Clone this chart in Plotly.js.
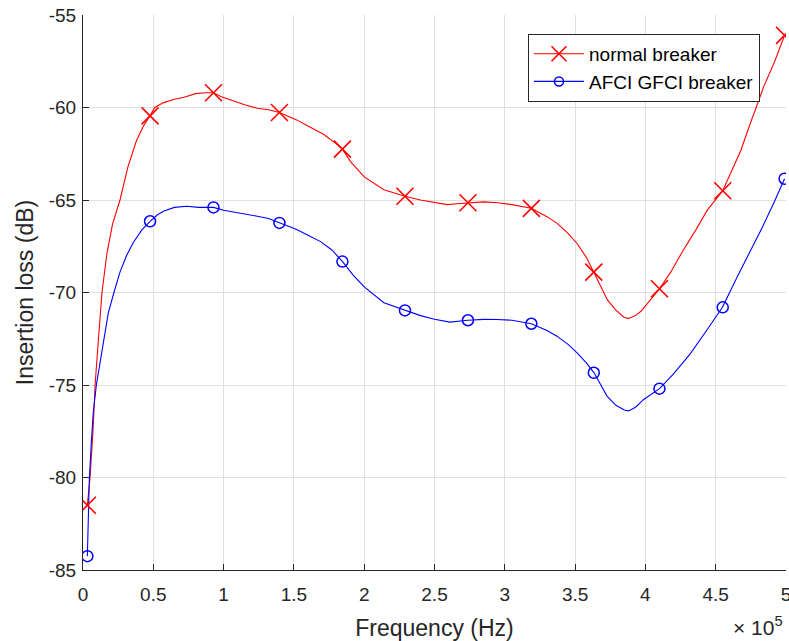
<!DOCTYPE html>
<html>
<head>
<meta charset="utf-8">
<script src="https://cdn.plot.ly/plotly-3.0.1.min.js"></script>
<style>html,body{margin:0;padding:0;background:#fff;}#chart{width:789px;height:641px;}</style>
</head>
<body>
<div id="chart"></div>
<script>
// Dense measured curves (frequency in Hz, insertion loss in dB)
const redLineFreq = [3100,5000,7100,8600,11000,13500,17000,21000,26300,32000,38000,43000,47700,51000,57000,65000,72000,80000,87000,92800,98000,105000,115000,124000,132000,139700,152000,160000,171000,180000,184500,190000,200000,214000,229000,240000,250000,259000,266000,273800,285000,295000,305000,318900,330000,337000,345000,351400,358000,363300,369000,373000,379000,385000,388000,393000,397000,403000,410000,418000,427000,436000,444000,455000,462000,468000,473000,479000,484000,492000,499000];
const redLineLoss = [-81.5,-80.0,-77.5,-75.0,-72.5,-70.0,-67.9,-66.3,-65.0,-63.2,-61.8,-61.0,-60.45,-60.0,-59.75,-59.55,-59.45,-59.25,-59.2,-59.2,-59.4,-59.6,-59.85,-60.04,-60.12,-60.27,-60.67,-61.0,-61.45,-61.95,-62.25,-62.9,-63.75,-64.45,-64.8,-65.0,-65.15,-65.25,-65.2,-65.15,-65.1,-65.15,-65.25,-65.45,-65.9,-66.25,-66.8,-67.35,-68.1,-68.9,-69.8,-70.4,-70.95,-71.35,-71.4,-71.25,-71.0,-70.45,-69.8,-68.9,-67.7,-66.6,-65.55,-64.5,-63.3,-62.3,-61.2,-60.0,-58.9,-57.5,-56.1];

const blueLineFreq = [3100,4500,6000,7300,9500,12100,14500,18000,22000,26300,31000,35800,42000,47700,53000,57200,65000,73800,82000,92800,100000,105000,115000,124000,132000,139700,152000,160000,169000,177000,184600,192000,200000,214000,229000,240000,250000,261000,273800,285000,294400,305000,318900,330000,337100,345000,351400,358000,363500,369000,372700,379000,385000,388000,393000,398800,410000,420000,432000,444000,454800,465000,475000,483000,491300,499000];
const blueLineLoss = [-84.25,-80.1,-78.0,-76.5,-75.0,-73.8,-72.5,-71.1,-70.0,-68.9,-68.0,-67.3,-66.6,-66.15,-65.8,-65.61,-65.4,-65.34,-65.4,-65.4,-65.55,-65.61,-65.75,-65.88,-66.0,-66.24,-66.6,-66.9,-67.25,-67.7,-68.33,-69.05,-69.7,-70.55,-70.97,-71.25,-71.45,-71.6,-71.5,-71.45,-71.46,-71.5,-71.69,-72.05,-72.36,-72.8,-73.26,-73.8,-74.34,-75.1,-75.6,-76.1,-76.35,-76.4,-76.2,-75.78,-75.2,-74.4,-73.3,-72.0,-70.8,-69.2,-67.7,-66.5,-65.16,-63.85];

// Marker positions
const markerFreq = [3100,47700,92800,139700,184500,229000,273800,318900,363300,410000,455000,499000];
const redMarkers = [-81.5,-60.45,-59.2,-60.27,-62.25,-64.8,-65.15,-65.45,-68.9,-69.8,-64.5,-56.1];
const blueMarkers = [-84.25,-66.15,-65.4,-66.24,-68.33,-70.97,-71.5,-71.69,-74.34,-75.2,-70.8,-63.85];

// Series names and axis ticks
const seriesNames = ['normal breaker','AFCI GFCI breaker'];
const xTickVals = [0,50000,100000,150000,200000,250000,300000,350000,400000,450000,500000];
const xTickText = ['0','0.5','1','1.5','2','2.5','3','3.5','4','4.5','5'];
const yTickVals = [-85,-80,-75,-70,-65,-60,-55];
const yTickText = ['-85','-80','-75','-70','-65','-60','-55'];

const RED = '#ff0000', BLUE = '#0000ff', AX = '#262626';
const FONT = 'Liberation Sans, Arial, Helvetica, sans-serif';

const traces = [
  {x: redLineFreq, y: redLineLoss, mode: 'lines', line: {color: RED, width: 1.1}, showlegend: false, hoverinfo: 'skip'},
  {x: blueLineFreq, y: blueLineLoss, mode: 'lines', line: {color: BLUE, width: 1.1}, showlegend: false, hoverinfo: 'skip'},
  {x: markerFreq, y: redMarkers, mode: 'markers', showlegend: false,
   marker: {symbol: 'x-thin-open', size: 17, color: RED, line: {color: RED, width: 1.6}}},
  {x: markerFreq, y: blueMarkers, mode: 'markers', showlegend: false,
   marker: {symbol: 'circle-open', size: 11, color: BLUE, line: {color: BLUE, width: 1.5}}},
  // legend entries
  {x: [null], y: [null], mode: 'lines+markers', name: seriesNames[0],
   line: {color: RED, width: 1.1}, marker: {symbol: 'x-thin-open', size: 15, color: RED, line: {color: RED, width: 1.6}}},
  {x: [null], y: [null], mode: 'lines+markers', name: seriesNames[1],
   line: {color: BLUE, width: 1.1}, marker: {symbol: 'circle-open', size: 9, color: BLUE, line: {color: BLUE, width: 1.5}}}
];

const layout = {
  width: 789, height: 641,
  margin: {l: 83, r: 3, t: 15, b: 71, pad: 0},
  paper_bgcolor: '#ffffff', plot_bgcolor: '#ffffff',
  font: {family: FONT, size: 19, color: AX},
  showlegend: true,
  xaxis: {
    range: [0, 500000], tickvals: xTickVals, ticktext: xTickText,
    showgrid: true, gridcolor: '#dfdfdf', gridwidth: 1,
    zeroline: false, showline: true, linecolor: AX, linewidth: 1,
    ticks: 'inside', ticklen: 6, tickcolor: AX, tickwidth: 1,
    tickfont: {size: 19, color: AX}, ticklabelstandoff: 7, ticklabeloverflow: 'allow',
    title: {text: 'Frequency (Hz)', font: {size: 23, color: AX}, standoff: 17},
    mirror: false
  },
  yaxis: {
    range: [-85, -55], tickvals: yTickVals, ticktext: yTickText,
    showgrid: true, gridcolor: '#dfdfdf', gridwidth: 1,
    zeroline: false, showline: true, linecolor: AX, linewidth: 1,
    ticks: 'inside', ticklen: 6, tickcolor: AX, tickwidth: 1,
    tickfont: {size: 19, color: AX}, ticklabelstandoff: 2,
    title: {text: 'Insertion loss (dB)', font: {size: 23, color: AX}, standoff: 8},
    mirror: false
  },
  legend: {
    x: 0.633, y: 0.966, xanchor: 'left', yanchor: 'top',
    bgcolor: '#ffffff', bordercolor: AX, borderwidth: 1,
    font: {size: 19, color: '#000000'}, itemwidth: 50, tracegroupgap: 0
  },
  annotations: [
    {text: '\u00d7 10<sup>5</sup>', xref: 'paper', yref: 'paper', x: 1, y: 0,
     xanchor: 'right', yanchor: 'middle', yshift: -56, xshift: -1, showarrow: false, font: {size: 21, color: AX}}
  ]
};

Plotly.newPlot('chart', traces, layout, {displayModeBar: false, staticPlot: true});
</script>
</body>
</html>
